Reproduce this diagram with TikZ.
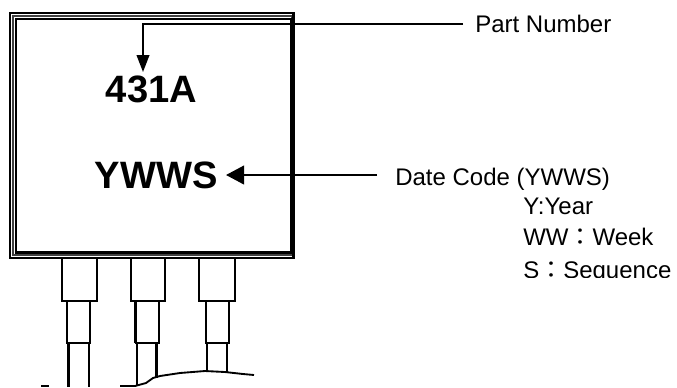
\documentclass[tikz,border=0pt]{standalone}
\usepackage{fontspec}
\setmainfont{Liberation Sans}
\newfontfamily\cjk{Noto Sans CJK TC}
\usetikzlibrary{arrows.meta}
\tikzset{
  x=.75pt,y=-.75pt,
  ln/.style={line width=1.5pt,black},
  thk/.style={line width=2.2pt,black},
  leader/.style={line width=1.4pt,black},
  arrowv/.style={leader,-{Triangle[length=12.75pt,width=9.5pt]}},
  arrowh/.style={leader,-{Triangle[length=13.5pt,width=14pt]}},
  marktext/.style={inner sep=0pt,anchor=base,font=\bfseries\fontsize{28.6}{30}\selectfont},
  lbl/.style={inner sep=0pt,anchor=base west,font=\fontsize{18}{20}\selectfont},
}
\begin{document}
\begin{tikzpicture}
\useasboundingbox (0,0) rectangle (677,387);
% package frame
\draw[line width=1.7pt] (10,13) rectangle (294,258);
\draw[line width=.9pt,black!75] (13,16) rectangle (291.5,255);
\draw[line width=1.7pt] (16,19) rectangle (291,252.5);
\draw[line width=1.7pt] (293,13) -- (293,258);
% pins
\draw[ln] (61.5,259) -- (61.5,301) -- (97,301) -- (97,259);
\draw[ln] (66.5,301) -- (66.5,343) -- (90,343) -- (90,301);
\draw[ln] (89,343) -- (89,387);
\draw[thk] (68.5,343) -- (68.5,387);
\draw[ln] (131,259) -- (131,301) -- (165,301) -- (165,259);
\draw[thk] (135.5,301) -- (135.5,343);
\draw[ln] (135,343) -- (159,343) -- (159,301);
\draw[ln] (137,343) -- (137,386);
\draw[thk] (156.5,343) -- (156.5,378);
\draw[ln] (198.5,259) -- (198.5,301) -- (235,301);
\draw[thk] (235,259) -- (235,302);
\draw[ln] (205.5,301) -- (205.5,343) -- (229,343) -- (229,301);
\draw[ln] (206.5,343) -- (206.5,371);
\draw[ln] (227,343) -- (227,372);
% board outline
\draw[line width=1.4pt] (120,386) -- (135,386) -- (146,383) -- (153,378) -- (160,376) -- (180,373) -- (205,371) -- (225,372) -- (243,374) -- (254,375);
\draw[line width=1.4pt] (41,386) -- (49,386);
% texts
\node[marktext] (pn) at (151.5,102) {431A};
\node[marktext] (dc) at (156,188) {YWWS};
\node[lbl] (partlbl) at (475,32) {Part Number};
\node[lbl] (datelbl) at (395,185) {Date Code (YWWS)};
\node[lbl] (ylbl) at (523,214) {Y:Year};
\node[lbl] (wlbl) at (523,245) {WW{\cjk ：}Week};
\begin{scope}
\clip (500,252) rectangle (677,277);
\node[lbl] (slbl) at (523,278) {S{\cjk ：}Sequence};
\end{scope}
% leaders
\coordinate (parttip) at (143,72);
\coordinate (partend) at (463,24);
\coordinate (dateend) at (377,175);
\coordinate (datetip) at (226,175);
\draw[arrowv] (partend) -| (parttip);
\draw[arrowh] (dateend) -- (datetip);
\end{tikzpicture}
\end{document}
